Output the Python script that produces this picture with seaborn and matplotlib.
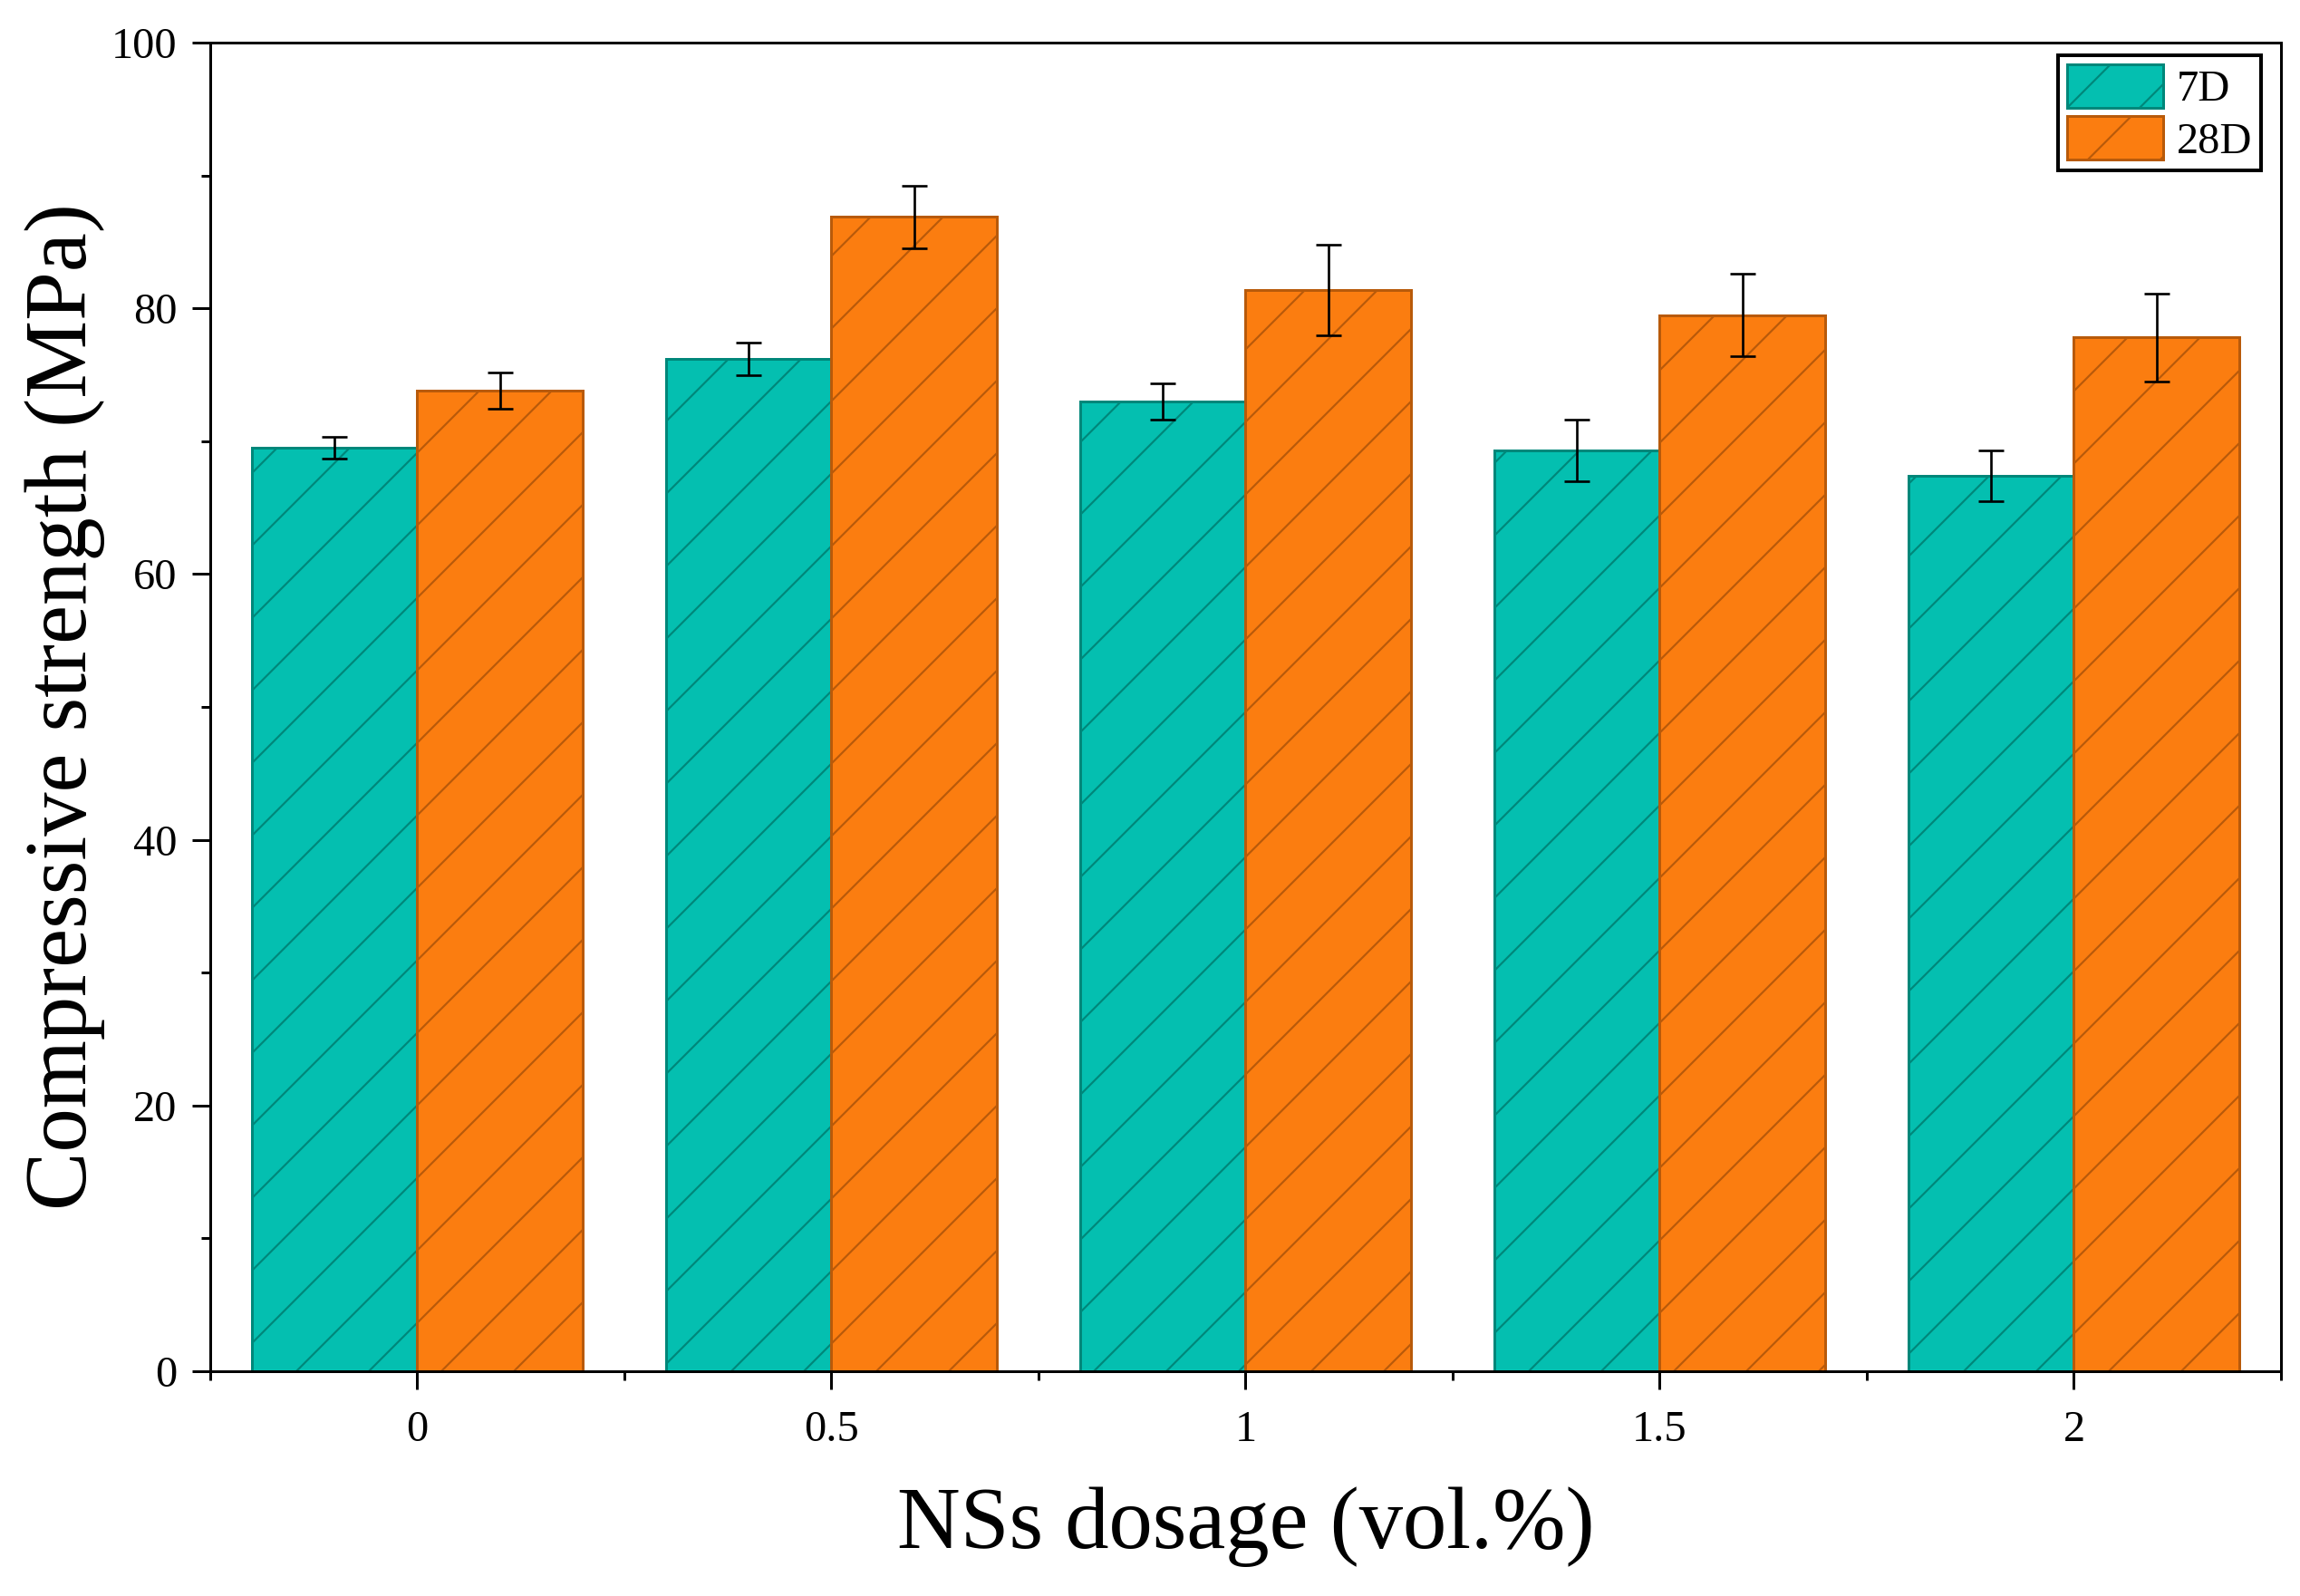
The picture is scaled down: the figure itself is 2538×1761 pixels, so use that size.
import pandas as pd
import numpy as np
import seaborn as sns
import matplotlib.pyplot as plt
from matplotlib.ticker import MultipleLocator

# data
dosage = ["0", "0.5", "1", "1.5", "2"]
ages = ["7D", "28D"]
strength_7d = [69.5, 76.2, 73.0, 69.3, 67.4]
strength_28d = [73.8, 86.9, 81.4, 79.5, 77.8]
err_7d = [0.8, 1.2, 1.35, 2.3, 1.9]
err_28d = [1.35, 2.35, 3.4, 3.1, 3.3]

fill_colors = ["#04BFB0", "#FB7D10"]
edge_colors = ["#00877A", "#B85A0A"]

sns.set_style('ticks')
plt.rcParams['font.family'] = ['Liberation Serif', 'DejaVu Serif']
plt.rcParams['text.color'] = 'black'
plt.rcParams['axes.labelcolor'] = 'black'
plt.rcParams['hatch.linewidth'] = 0.65
plt.rcParams['xtick.direction'] = 'out'
plt.rcParams['ytick.direction'] = 'out'

df = pd.DataFrame({
    "dosage": dosage * 2,
    "age": ["7D"] * len(dosage) + ["28D"] * len(dosage),
    "strength": strength_7d + strength_28d,
})

fig = plt.figure(figsize=(2538 / 240, 1761 / 240), dpi=240)
ax = fig.add_axes([0.0914, 0.1408, 0.9003, 0.8325])

sns.barplot(data=df, x="dosage", y="strength", hue="age", order=dosage,
            hue_order=ages, palette=fill_colors, errorbar=None, width=0.8,
            saturation=1, legend=False, ax=ax)

bar_conts = list(ax.containers)
errs = [err_7d, err_28d]
for i, cont in enumerate(bar_conts):
    xs, ys = [], []
    for bar in cont:
        bar.set_edgecolor(edge_colors[i])
        bar.set_linewidth(0.9)
        bar.set_hatch('/')
        xs.append(bar.get_x() + bar.get_width() / 2)
        ys.append(bar.get_height())
    ax.errorbar(xs, ys, yerr=errs[i], fmt='none', ecolor='black',
                elinewidth=0.8, capsize=4.2, capthick=0.8, zorder=5)

ax.set_xlim(-0.5, 4.5)
ax.set_ylim(0, 100)
ax.yaxis.set_major_locator(MultipleLocator(20))
ax.yaxis.set_minor_locator(MultipleLocator(10))
ax.set_xticks(np.arange(len(dosage)))
ax.set_xticklabels(dosage)
ax.set_xticks(np.arange(-0.5, len(dosage), 1.0), minor=True)

for s in ax.spines.values():
    s.set_visible(True)
    s.set_linewidth(0.9)
    s.set_color('black')
ax.tick_params(axis='both', which='major', length=6, width=0.9,
               labelsize=14.5, colors='black')
ax.tick_params(axis='both', which='minor', length=3, width=0.9, colors='black')
ax.tick_params(axis='y', which='major', pad=5)
ax.tick_params(axis='x', which='major', pad=7)

ax.set_xlabel("NSs dosage (vol.%)", fontsize=29, labelpad=12, color='black')
ax.set_ylabel("Compressive strength (MPa)", fontsize=29, labelpad=2, color='black')

leg = ax.legend(bar_conts, ages, loc='upper right', bbox_to_anchor=(0.9904, 0.9905),
                fontsize=14.5, frameon=True, fancybox=False, framealpha=1,
                edgecolor='black', handlelength=2.2, handleheight=1.15,
                handletextpad=0.3, labelspacing=0.15, borderpad=0.2,
                borderaxespad=0)
leg.get_frame().set_linewidth(1.2)

fig.savefig("out.png", dpi=240)
